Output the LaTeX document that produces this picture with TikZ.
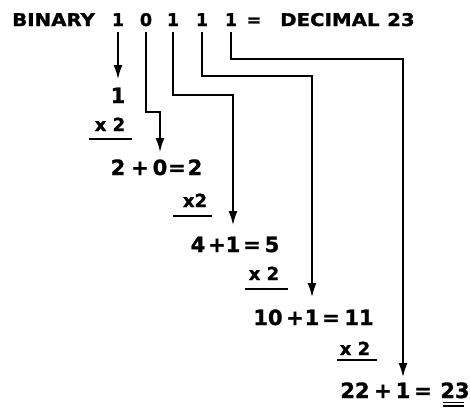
\documentclass[tikz,border=0pt]{standalone}
\usepackage{fontspec}
\setmainfont{DejaVu Sans}[BoldFeatures={FakeBold=1.2}]
\usetikzlibrary{arrows.meta}
\newcommand{\wide}[1]{\scalebox{1.13}[1]{#1}}
\begin{document}
\begin{tikzpicture}[x=1pt,y=-1pt,
  tok/.style={inner sep=0pt, anchor=base, font=\fontsize{21}{21}\selectfont\bfseries},
  toptok/.style={tok, font=\fontsize{17.5}{17.5}\selectfont\bfseries},
  mul/.style={tok, font=\fontsize{18}{18}\selectfont\bfseries},
  conn/.style={line width=2.7pt, -{Latex[length=15pt,width=9pt]}},
  rulebar/.style={line width=2.4pt}]
\fill[white] (0,0) rectangle (470,408);
\useasboundingbox (0,0) rectangle (470,408);
% top row
\node[toptok, anchor=base west] (bin) at (12,26) {\wide{BINARY}};
\node[toptok] (b1) at (118,26) {1};
\node[toptok] (b2) at (146,26) {0};
\node[toptok] (b3) at (173,26) {1};
\node[toptok] (b4) at (202,26) {1};
\node[toptok] (b5) at (231,26) {1};
\node[toptok] (eq0) at (254,26) {=};
\node[toptok, anchor=base west] (dec) at (280,26) {\wide{DECIMAL}};
\node[toptok, anchor=base west] (d23) at (387,26) {\wide{23}};
% row 1
\node[tok] (r1) at (118,103) {1};
\node[mul] (m1) at (110,131) {x 2};
\draw[rulebar] (89,139) -- (132,139);
% row 2
\node[tok] (r2a) at (118,175) {2};
\node[tok] (r2p) at (140,175) {+};
\node[tok] (z2) at (160,175) {0};
\node[tok] (r2e) at (177,175) {=};
\node[tok] (r2b) at (195,175) {2};
\node[mul] (m2) at (195,207) {x2};
\draw[rulebar] (173,216) -- (212,216);
% row 3
\node[tok] (r3a) at (198,252) {4};
\node[tok] (r3p) at (217,252) {+};
\node[tok] (z3) at (233,252) {1};
\node[tok] (r3e) at (252,252) {=};
\node[tok] (r3b) at (272,252) {5};
\node[mul] (m3) at (264,280) {x 2};
\draw[rulebar] (245,289) -- (288,289);
% row 4
\node[tok] (r4a) at (268,325) {10};
\node[tok] (r4p) at (295,325) {+};
\node[tok] (z4) at (312,325) {1};
\node[tok] (r4e) at (331,325) {=};
\node[tok] (r4b) at (359,325) {11};
\node[mul] (m4) at (355,355) {x 2};
\draw[rulebar] (337,360) -- (377,360);
% row 5
\node[tok] (r5a) at (355,398) {22};
\node[tok] (r5p) at (383,398) {+};
\node[tok] (z5) at (403,398) {1};
\node[tok] (r5e) at (423,398) {=};
\node[tok] (r5b) at (455,398) {23};
\draw[line width=1.4pt] (443,402.5) -- (464,402.5) (443,406) -- (464,406);
% connectors
\draw[conn] (b1 |- 0,32) -- (r1 |- 0,80);
\draw[conn] (b2 |- 0,32) -- (b2 |- 0,112) -| (z2 |- 0,153);
\draw[conn] (b3 |- 0,32) -- (b3 |- 0,95) -| (z3 |- 0,226);
\draw[conn] (b4 |- 0,32) -- (b4 |- 0,76) -| (z4 |- 0,298);
\draw[conn] (b5 |- 0,32) -- (b5 |- 0,59) -| (z5 |- 0,378);
\end{tikzpicture}
\end{document}
